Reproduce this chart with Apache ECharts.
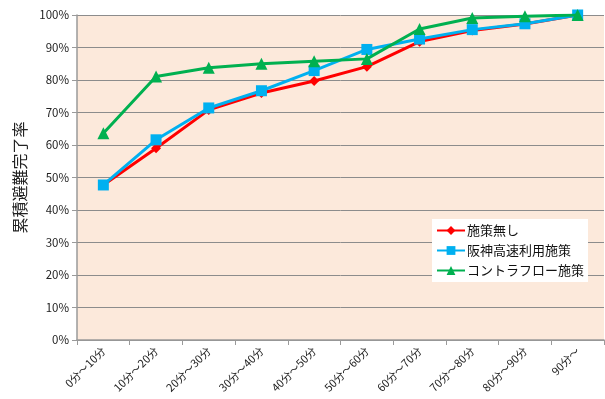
<!DOCTYPE html>
<html><head><meta charset="utf-8">
<script src="https://cdn.jsdelivr.net/npm/echarts@6/dist/echarts.min.js"></script>
<style>html,body{margin:0;padding:0;background:#fff}#c{width:605px;height:399px}</style>
</head><body><div id="c"></div>
<script>
const categories = ["0分～10分","10分～20分","20分～30分","30分～40分","40分～50分","50分～60分","60分～70分","70分～80分","80分～90分","90分～"];
const seriesNames = ["施策無し","阪神高速利用施策","コントラフロー施策"];
const noMeasure = [47.7, 59.0, 70.8, 76.0, 79.7, 84.1, 91.8, 95.2, 97.2, 100];
const hanshin = [47.7, 61.6, 71.4, 76.7, 82.9, 89.4, 92.6, 95.5, 97.3, 100];
const contraflow = [63.6, 81.1, 83.8, 85.0, 85.8, 86.5, 95.7, 99.1, 99.6, 100];
const yTicks = [0,10,20,30,40,50,60,70,80,90,100];

const chart = echarts.init(document.getElementById('c'));
const font = '"Noto Sans CJK JP", "Noto Sans", sans-serif';
chart.setOption({
  animation: false,
  textStyle: {fontFamily: font},
  grid: {left: 77, right: 1, top: 15, bottom: 59, backgroundColor: '#FCE9DB', show: true, borderWidth: 0},
  xAxis: {
    type: 'category', data: categories, boundaryGap: true,
    axisLine: {lineStyle: {color: '#9a9a9a', width: 1.5}},
    axisTick: {show: true, alignWithLabel: false, length: 5, lineStyle: {color: '#9a9a9a'}},
    axisLabel: {rotate: 45, fontSize: 11, color: '#222', margin: 9, interval: 0, fontFamily: font}
  },
  yAxis: {
    type: 'value', min: yTicks[0], max: yTicks[yTicks.length-1], interval: 10,
    name: '累積避難完了率', nameLocation: 'middle', nameGap: 48, nameRotate: 90,
    nameTextStyle: {fontSize: 16, color: '#222', fontFamily: font},
    axisLine: {show: true, lineStyle: {color: '#9a9a9a', width: 1.5}},
    axisTick: {show: true, length: 5, inside: false, lineStyle: {color: '#9a9a9a'}},
    splitLine: {lineStyle: {color: '#8c8c8c', width: 1}},
    axisLabel: {formatter: v => v + '%', fontSize: 11.5, color: '#222', margin: 8, fontFamily: font}
  },
  legend: {
    orient: 'vertical', left: 432, top: 219,
    backgroundColor: '#ffffff', padding: [5, 4, 5, 4], itemGap: 7,
    itemWidth: 28, itemHeight: 11,
    textStyle: {fontSize: 13, color: '#111', fontFamily: font, padding: [0, 0, 0, -3]},
    data: seriesNames
  },
  series: [
    {name: seriesNames[0], type: 'line', data: noMeasure, symbol: 'diamond', symbolSize: 10,
     lineStyle: {color: '#FF0000', width: 3}, itemStyle: {color: '#FF0000'}, z: 2},
    {name: seriesNames[1], type: 'line', data: hanshin, symbol: 'rect', symbolSize: 11,
     lineStyle: {color: '#00B0F0', width: 3}, itemStyle: {color: '#00B0F0'}, z: 3},
    {name: seriesNames[2], type: 'line', data: contraflow, symbol: 'triangle', symbolSize: 12,
     lineStyle: {color: '#00B050', width: 3}, itemStyle: {color: '#00B050'}, z: 4}
  ]
});
</script></body></html>
